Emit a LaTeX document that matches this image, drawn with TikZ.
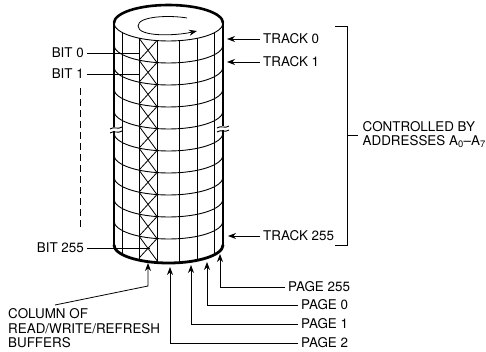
\documentclass[tikz,border=0pt]{standalone}
\usepackage{fontspec}
\setmainfont{TeX Gyre Heros}
\usetikzlibrary{arrows.meta}

\tikzset{
  lbl/.style={font=\fontsize{13.4}{14}\selectfont, inner ysep=1.5pt, inner xsep=3pt},
  ptr/.style={-{Stealth[length=8pt,width=6pt]}, line width=0.8pt},
  lead/.style={line width=0.8pt},
  grid/.style={line width=0.9pt},
  rim/.style={line width=2.2pt}
}

\begin{document}
\begin{tikzpicture}[x=1pt, y=1pt]
  \useasboundingbox (0,0) rectangle (486,351);
  % tracks
  \foreach \i in {1,...,9}
    \draw[grid] (114,{328-22*\i}) arc (180:360:54.5 and 18);
  \draw[grid] (168.5,328) ellipse (54.5 and 18);
  % pages
  \foreach \px in {122,139,157,179,197,214} {
    \pgfmathsetmacro{\dy}{18*sqrt(1-((\px-168.5)/54.5)^2)}
    \draw[grid] (\px,{328-\dy}) -- (\px,{106-\dy});
  }
  % buffers column
  \foreach \i in {0,...,9} {
    \draw[line width=0.8pt] (139,{312.9-22*\i}) -- (157,{288.4-22*\i});
    \draw[line width=0.8pt] (157,{310.4-22*\i}) -- (139,{290.9-22*\i});
  }
  % outline
  \draw[rim, line width=2.6pt] (114,328) arc (180:0:54.5 and 18);
  \draw[rim] (114,328) -- (114,106);
  \draw[rim] (223,328) -- (223,106);
  \draw[rim, line width=2.8pt, line cap=round] (114,106) arc (180:360:54.5 and 18);
  % rotation
  \draw[ptr] (187,333) .. controls (170,336) and (138,335) .. (138,325)
    .. controls (138,314) and (175,315) .. (197,320);
  % breaks
  \foreach \bx/\by in {116/221,223/222} {
    \fill[white] (\bx-6,\by-1.5) rectangle (\bx+6,\by+2.5);
    \draw[line width=0.9pt] (\bx-6,\by-3) .. controls (\bx-2,\by) and (\bx+2,\by-4) .. (\bx+6,\by-1);
    \draw[line width=0.9pt] (\bx-6,\by+1) .. controls (\bx-2,\by+4) and (\bx+2,\by) .. (\bx+6,\by+3);
  }

  % left labels
  \node[lbl, anchor=east] (bit0) at (87,298) {BIT 0};
  \node[lbl, anchor=east] (bit1) at (87,277) {BIT 1};
  \node[lbl, anchor=east] (bit255) at (87,103) {BIT 255};
  \coordinate (cell0) at (140,298);
  \coordinate (cell1) at (140,277);
  \coordinate (cell255) at (150,103);
  \draw[lead] (bit0.east) -- (bit0.east -| cell0);
  \draw[lead] (bit1.east) -- (bit1.east -| cell1);
  \draw[lead] (bit255.east) -- (bit255.east -| cell255);
  \coordinate (dashtop) at (80,263);
  \coordinate (dashbot) at (80,121);
  \draw[lead, dash pattern=on 7pt off 4pt] (dashtop) -- (dashbot);

  % right labels
  \node[lbl, anchor=west] (track0) at (260,312) {TRACK 0};
  \node[lbl, anchor=west] (track1) at (260,289) {TRACK 1};
  \node[lbl, anchor=west] (track255) at (260,115) {TRACK 255};
  \coordinate (tip0) at (227,311);
  \coordinate (tip1) at (227,288);
  \coordinate (tip255) at (228,114);
  \draw[ptr] (track0.west) -- (track0.west -| tip0);
  \draw[ptr] (track1.west) -- (track1.west -| tip1);
  \draw[ptr] (track255.west) -- (track255.west -| tip255);

  % bracket
  \coordinate (brtop) at (335,325);
  \coordinate (brbot) at (335,106);
  \draw[lead] (brtop) -- (347,325) -- (347,106) -- (brbot);
  \node[lbl, anchor=west, align=left, font=\fontsize{13.4}{14.4}\selectfont] (ctrl) at (359.5,216.5)
    {CONTROLLED BY\\ADDRESSES A\textsubscript{0}--A\textsubscript{7}};
  \draw[lead] (347,216) -- (358,216);

  % pages labels
  \node[lbl, anchor=west] (page255) at (285,64) {PAGE 255};
  \node[lbl, anchor=west] (page0) at (298,46) {PAGE 0};
  \node[lbl, anchor=west] (page1) at (298,27) {PAGE 1};
  \node[lbl, anchor=west] (page2) at (298,8) {PAGE 2};
  \coordinate (pg255) at (220,97);
  \coordinate (pg0) at (207,89);
  \coordinate (pg1) at (191,86);
  \coordinate (pg2) at (170,84);
  \draw[ptr] (page255.west) -| (pg255);
  \draw[ptr] (page0.west) -| (pg0);
  \draw[ptr] (page1.west) -| (pg1);
  \draw[ptr] (page2.west) -| (pg2);

  % buffers label
  \node[lbl, anchor=north west, align=left, font=\fontsize{13.4}{14.6}\selectfont] (buf) at (5,44)
    {COLUMN OF\\READ/WRITE/REFRESH\\BUFFERS};
  \coordinate (bufk) at (148,65);
  \coordinate (buftip) at (148,88);
  \coordinate (bufst) at (55,46);
  \draw[ptr] (bufst) -- (bufk) -- (buftip);
\end{tikzpicture}
\end{document}
